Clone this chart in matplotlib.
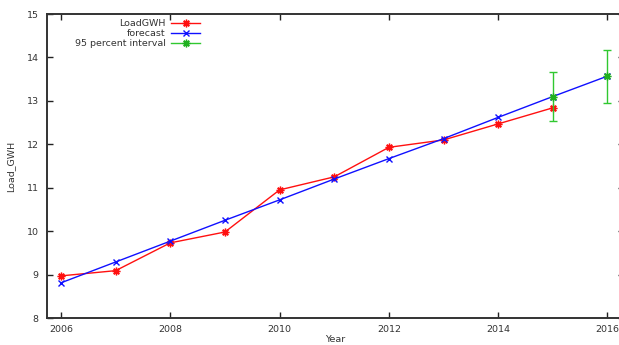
import matplotlib
matplotlib.use("Agg")
import matplotlib.pyplot as plt
from matplotlib.lines import Line2D

years = [2006, 2007, 2008, 2009, 2010, 2011, 2012, 2013, 2014, 2015]
load_gwh = [8.97, 9.09, 9.73, 9.98, 10.95, 11.25, 11.93, 12.10, 12.47, 12.84]

fc_years = [2006, 2007, 2008, 2009, 2010, 2011, 2012, 2013, 2014, 2015, 2016]
forecast = [8.81, 9.29, 9.77, 10.25, 10.72, 11.20, 11.67, 12.13, 12.62, 13.10, 13.57]

ci_years = [2015, 2016]
ci_mid = [13.10, 13.57]
ci_err = [0.57, 0.61]

plt.rcParams['font.family'] = ['DejaVu Sans']
fs = 6.8
axcol = '#333333'

fig = plt.figure(figsize=(6.19, 3.45), dpi=100)
# right border sits just past the picture edge, as in the original
ax = fig.add_axes([47 / 619, 1 - 318 / 345, 577 / 619, 304 / 345])

ast = (8, 2, 0)
ax.plot(years, load_gwh, color='#ff1010', lw=1.0, marker=ast, ms=5.5, mew=1.0)
ax.plot(fc_years, forecast, color='#1010ff', lw=1.0, marker='x', ms=4.5, mew=1.0)
ax.errorbar(ci_years, ci_mid, yerr=ci_err, fmt='none', ecolor='#30c830',
            elinewidth=1.0, capsize=3, capthick=1.0)
ax.plot(ci_years, ci_mid, ls='none', color='#20b020', marker=ast, ms=5.5, mew=1.0)

ax.set_xlim(2005.744, 2016.302)
ax.set_ylim(8, 15)
ax.set_xticks(range(2006, 2017, 2))
ax.set_yticks(range(8, 16))

for s in ax.spines.values():
    s.set_color(axcol)
    s.set_linewidth(1.4)
ax.tick_params(direction='in', length=4, width=1.0, color='#222222',
               labelsize=fs, labelcolor='#333333', top=True, right=True, pad=6)
ax.tick_params(axis='x', pad=5)

ax.set_xlabel('Year', fontsize=fs, color='#333333', labelpad=1)
ax.set_ylabel('Load_GWH', fontsize=fs, color='#333333', labelpad=8)

handles = [
    Line2D([], [], color='#ff1010', lw=1.0, marker=ast, ms=5.5, mew=1.0),
    Line2D([], [], color='#1010ff', lw=1.0, marker='x', ms=4.5, mew=1.0),
    Line2D([], [], color='#30c830', lw=1.0, marker=ast, ms=5.5, mew=1.0,
           mec='#20b020'),
]
labels = ['LoadGWH', 'forecast', '95 percent interval']
leg = ax.legend(handles, labels, loc='upper right', bbox_to_anchor=(158 / 577, 1.0),
                frameon=False, markerfirst=False, fontsize=fs, handlelength=3.0,
                handletextpad=0.6, labelspacing=0.1, borderaxespad=0.15,
                numpoints=1)
for t in leg.get_texts():
    t.set_color('#333333')

fig.savefig('out.png', dpi=100)
